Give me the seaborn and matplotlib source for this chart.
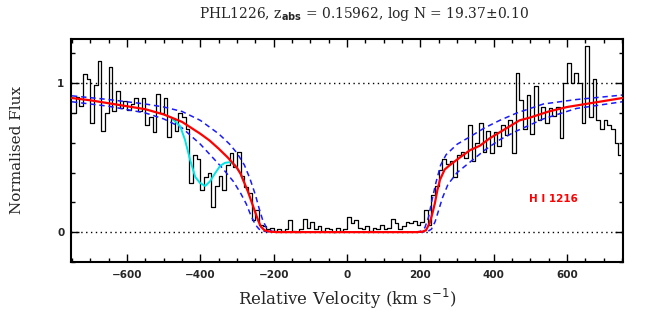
import numpy as np
import matplotlib
matplotlib.use("Agg")
import matplotlib.pyplot as plt
import seaborn as sns
from matplotlib.ticker import MultipleLocator, FixedLocator

# Observed spectrum, 10 km/s bins centred on -745 ... 745
velocity = np.arange(-745, 750, 10)
flux = [
    0.80, 0.91, 0.85, 1.06, 1.03, 0.73, 0.99, 1.15, 0.68, 0.80,   # -745 .. -655
    1.11, 0.81, 0.95, 0.83, 0.88, 0.82, 0.86, 0.90, 0.81, 0.90,   # -645 .. -555
    0.72, 0.77, 0.67, 0.93, 0.80, 0.90, 0.64, 0.76, 0.68, 0.80,   # -545 .. -455
    0.77, 0.69, 0.33, 0.52, 0.49, 0.28, 0.37, 0.40, 0.17, 0.31,   # -445 .. -355
    0.38, 0.28, 0.45, 0.53, 0.44, 0.54, 0.38, 0.30, 0.26, 0.08,   # -345 .. -255
    0.15, 0.05, 0.04, 0.02, 0.03, 0.01, 0.02, 0.01, 0.02, 0.08,   # -245 .. -155
    0.01, 0.00, 0.02, 0.09, 0.03, 0.07, 0.02, 0.04, 0.01, 0.03,   # -145 .. -55
    0.02, 0.00, 0.03, 0.01, 0.02, 0.10, 0.06, 0.08, 0.03, 0.02,   # -45 .. 45
    0.04, 0.01, 0.03, 0.02, 0.05, 0.02, 0.03, 0.085, 0.06, 0.02,  # 55 .. 145
    0.04, 0.07, 0.06, 0.075, 0.05, 0.07, 0.15, 0.05, 0.25, 0.31,  # 155 .. 245
    0.42, 0.49, 0.46, 0.48, 0.37, 0.52, 0.54, 0.50, 0.72, 0.48,   # 255 .. 345
    0.60, 0.73, 0.54, 0.68, 0.53, 0.67, 0.58, 0.72, 0.65, 0.75,   # 355 .. 445
    0.53, 1.07, 0.89, 0.69, 0.92, 0.66, 0.98, 0.75, 0.84, 0.73,   # 455 .. 545
    0.83, 0.78, 0.84, 0.63, 1.00, 1.135, 1.00, 1.07, 1.00, 0.73,  # 555 .. 645
    1.25, 0.77, 1.03, 0.75, 0.69, 0.75, 0.72, 0.69, 0.60, 0.52,   # 655 .. 745
]

# Best-fit Lyman-alpha profile
fit_vel = [-750, -700, -650, -600, -550, -500, -450, -400, -375, -350, -325,
           -300, -290, -280, -270, -260, -250, -242, -235, -225, -210, -190,
           190, 205, 215, 225, 232, 239, 246, 253, 266, 280, 307, 335, 362,
           389, 416, 443, 470, 500, 550, 600, 650, 700, 750]
fit_flux = [0.90, 0.885, 0.865, 0.845, 0.825, 0.79, 0.74, 0.66, 0.615, 0.56,
            0.50, 0.43, 0.39, 0.33, 0.27, 0.20, 0.13, 0.075, 0.037, 0.012,
            0.003, 0.0, 0.0, 0.003, 0.012, 0.06, 0.12, 0.19, 0.28, 0.35, 0.42,
            0.45, 0.50, 0.55, 0.58, 0.63, 0.67, 0.71, 0.75, 0.77, 0.81, 0.84,
            0.86, 0.88, 0.90]

# log N -/+ 0.10 profiles
upper_vel = [-750, -650, -550, -500, -450, -400, -350, -320, -300, -280, -265,
             -250, -240, -230, -220, -205, -185, 185, 200, 212, 222, 232, 242,
             255, 270, 300, 335, 375, 416, 463, 535, 625, 750]
upper_flux = [0.915, 0.89, 0.86, 0.84, 0.81, 0.75, 0.66, 0.59, 0.53, 0.45,
              0.36, 0.25, 0.16, 0.08, 0.03, 0.005, 0.0, 0.0, 0.005, 0.03, 0.10,
              0.22, 0.33, 0.45, 0.52, 0.59, 0.64, 0.70, 0.75, 0.80, 0.86, 0.89,
              0.92]
lower_vel = [-750, -650, -550, -500, -450, -400, -370, -340, -310, -290, -275,
             -262, -250, -240, -225, -205, 205, 220, 230, 240, 250, 260, 275,
             300, 335, 375, 416, 463, 535, 625, 750]
lower_flux = [0.875, 0.845, 0.80, 0.76, 0.70, 0.59, 0.51, 0.43, 0.34, 0.26,
              0.19, 0.11, 0.05, 0.02, 0.005, 0.0, 0.0, 0.005, 0.02, 0.07, 0.15,
              0.23, 0.32, 0.40, 0.47, 0.55, 0.62, 0.68, 0.76, 0.83, 0.875]

# Fit including the blended component
blend_vel = [-480, -455, -442, -428, -414, -401, -387, -374, -360, -346, -333,
             -319, -305, -292, -282]
blend_flux = [0.77, 0.71, 0.62, 0.485, 0.37, 0.33, 0.31, 0.34, 0.395, 0.445,
              0.465, 0.47, 0.45, 0.40, 0.34]

sns.set_style("ticks")
plt.rcParams["font.family"] = ["DejaVu Serif", "DejaVu Sans"]

fig = plt.figure(figsize=(6.54, 3.27), dpi=100)
ax = fig.add_axes([0.109, 0.199, 0.844, 0.682])

ax.axhline(0, color="black", linestyle=(0, (1, 2.5)), lw=1.0, zorder=1)
ax.axhline(1, color="black", linestyle=(0, (1, 2.5)), lw=1.0, zorder=1)

sns.lineplot(x=velocity, y=flux, ax=ax, color="black", lw=0.9,
             drawstyle="steps-mid", estimator=None, zorder=2)
sns.lineplot(x=upper_vel, y=upper_flux, ax=ax, color="#1a1aff", lw=1.1,
             linestyle=(0, (3.5, 2.5)), estimator=None, zorder=3)
sns.lineplot(x=lower_vel, y=lower_flux, ax=ax, color="#1a1aff", lw=1.1,
             linestyle=(0, (3.5, 2.5)), estimator=None, zorder=3)
sns.lineplot(x=blend_vel, y=blend_flux, ax=ax, color="#00e5e5", lw=1.4,
             estimator=None, zorder=4)
sns.lineplot(x=fit_vel, y=fit_flux, ax=ax, color="red", lw=1.6,
             estimator=None, zorder=5)

ax.text(563, 0.22, "H I 1216", color="red", fontsize=7.5, fontweight="bold",
        family="DejaVu Sans", ha="center", va="center")

ax.set_xlim(-752, 753)
ax.set_ylim(-0.2, 1.297)

ax.xaxis.set_major_locator(MultipleLocator(200))
ax.xaxis.set_minor_locator(MultipleLocator(50))
ax.yaxis.set_major_locator(FixedLocator([0, 1]))
ax.yaxis.set_minor_locator(MultipleLocator(0.2))
ax.tick_params(which="both", direction="in", top=True, right=True,
               width=1.0, color="black")
ax.tick_params(which="major", length=6)
ax.tick_params(which="minor", length=3)
ax.tick_params(axis="x", pad=6)
ax.tick_params(axis="y", pad=5)

for lab in ax.get_xticklabels() + ax.get_yticklabels():
    lab.set_fontfamily("DejaVu Sans")
    lab.set_fontweight("bold")
    lab.set_fontsize(7.5)

for side in ax.spines.values():
    side.set_linewidth(1.5)
    side.set_color("black")

ax.set_xlabel("Relative Velocity (km s$^{-1}$)", fontsize=12, labelpad=5)
ax.set_ylabel("Normalised Flux", fontsize=11, labelpad=24)
fig.text(0.556, 0.957, r"PHL1226, z$_{\mathbf{abs}}$ = 0.15962, log N = 19.37$\pm$0.10",
         ha="center", va="center", fontsize=10)

fig.savefig("out.png", dpi=100)
plt.close(fig)
